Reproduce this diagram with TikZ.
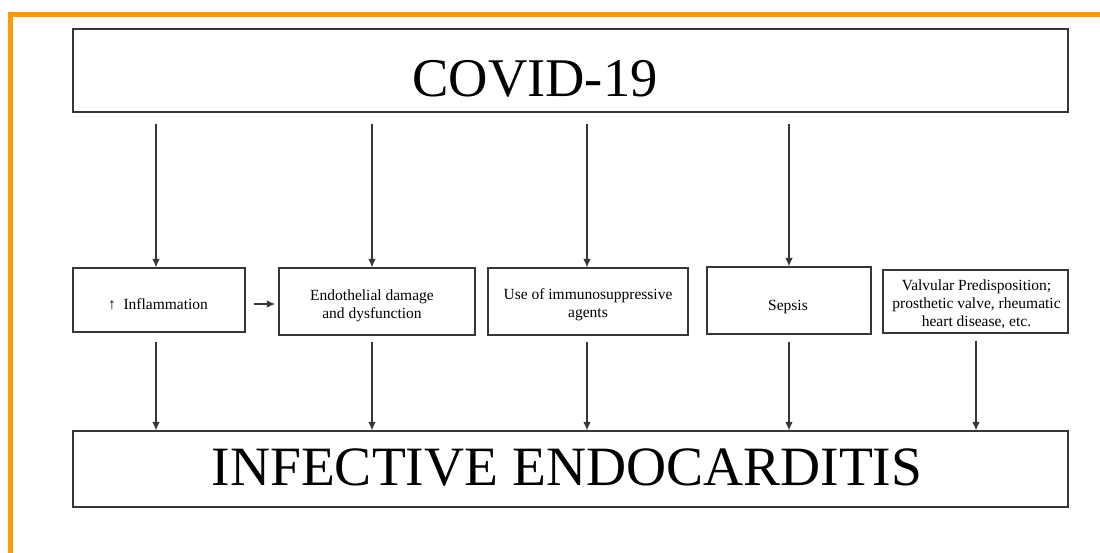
\documentclass[tikz,border=0pt]{standalone}
\usepackage{fontspec}
\setmainfont{Liberation Serif}
\usetikzlibrary{arrows.meta}
\definecolor{frameorange}{RGB}{255,153,0}
\definecolor{boxline}{RGB}{55,55,55}
\begin{document}
\begin{tikzpicture}[x=1pt,y=-1pt,
  box/.style={draw=boxline, line width=1.2pt, inner sep=0pt},
  small/.style={align=center, inner sep=0pt, anchor=base, font=\fontsize{15.5}{18}\selectfont},
  big/.style={inner sep=0pt, anchor=base},
  arr/.style={draw=boxline, line width=1.2pt, -{Latex[length=8.5pt,width=7.5pt]}}]
\useasboundingbox (0,0) rectangle (1100,552);
\fill[white] (0,0) rectangle (1100,552);
\draw[frameorange, line width=5pt] (10.8,560) -- (10.8,14.8) -- (1110,14.8);

% boxes
\node[box, minimum width=995pt, minimum height=83pt] (top) at (570.5,70.5) {};
\node[box, minimum width=995pt, minimum height=76pt] (bottom) at (570.5,469) {};
\node[box, minimum width=172pt, minimum height=64pt] (b1) at (159,300) {};
\node[box, minimum width=196pt, minimum height=67pt] (b2) at (377,301.5) {};
\node[box, minimum width=200pt, minimum height=67pt] (b3) at (588,301.5) {};
\node[box, minimum width=164pt, minimum height=67pt] (b4) at (789,300.5) {};
\node[box, minimum width=185pt, minimum height=63pt] (b5) at (975.5,301.5) {};

% texts
\node[big, font=\fontsize{54.5}{60}\selectfont] (ttop) at (535,96) {COVID-19};
\node[big, font=\fontsize{55.5}{60}\selectfont] (tbottom) at (567,485) {INFECTIVE ENDOCARDITIS};
\node[small] (t1) at (158,309) {↑\ \ Inflammation};
\node[small] (t2) at (372,318) {Endothelial damage\\and dysfunction};
\node[small] (t3) at (588,317) {Use of immunosuppressive\\agents};
\node[small] (t4) at (788,310) {Sepsis};
\node[small] (t5) at (976.5,326) {Valvular Predisposition;\\prosthetic valve, rheumatic\\heart disease, etc.};

% arrows from top
\draw[arr] ([xshift=-3pt]b1.north |- top.south) ++(0,11) -- ([xshift=-3pt]b1.north);
\draw[arr] ([xshift=-5pt]b2.north |- top.south) ++(0,11) -- ([xshift=-5pt]b2.north);
\draw[arr] ([xshift=-1pt]b3.north |- top.south) ++(0,11) -- ([xshift=-1pt]b3.north);
\draw[arr] (b4.north |- top.south) ++(0,11) -- (b4.north);

% horizontal arrow
\draw[arr, line width=1.8pt] ([xshift=8pt,yshift=-4pt]b1.east) -- ([xshift=-3pt,yshift=-4pt]b1.east -| b2.west);

% arrows to bottom
\draw[arr] ([xshift=-3pt]b1.south) ++(0,9) -- ([xshift=-3pt]b1.south |- bottom.north);
\draw[arr] ([xshift=-5pt]b2.south) ++(0,6) -- ([xshift=-5pt]b2.south |- bottom.north);
\draw[arr] ([xshift=-1pt]b3.south) ++(0,6) -- ([xshift=-1pt]b3.south |- bottom.north);
\draw[arr] (b4.south) ++(0,7) -- (b4.south |- bottom.north);
\draw[arr] ([xshift=0.5pt]b5.south) ++(0,7) -- ([xshift=0.5pt]b5.south |- bottom.north);
\end{tikzpicture}
\end{document}
